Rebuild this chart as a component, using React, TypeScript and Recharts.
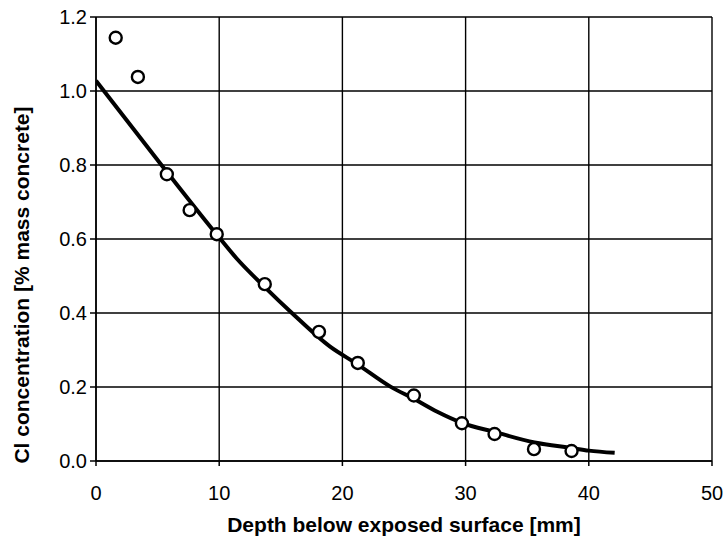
import React from "react";
import {
  ComposedChart,
  Line,
  Scatter,
  XAxis,
  YAxis,
  CartesianGrid,
  Label,
} from "recharts";

// Measured chloride profile
const depthsMm = [1.6, 3.4, 5.75, 7.6, 9.8, 13.7, 18.1, 21.25, 25.8, 29.7, 32.35, 35.55, 38.6];
const chloridePct = [1.144, 1.038, 0.775, 0.678, 0.613, 0.478, 0.349, 0.265, 0.177, 0.102, 0.073, 0.032, 0.027];

// Fitted curve
const curveDepthsMm = [0, 5.2, 9.8, 11.4, 13.7, 15.9, 19.0, 21.2, 23.9, 25.8, 27.7, 29.7, 32.4, 35.6, 38.6, 40.0, 42.1];
const curvePct = [1.028, 0.805, 0.612, 0.548, 0.47, 0.4, 0.309, 0.262, 0.201, 0.168, 0.133, 0.103, 0.078, 0.05, 0.035, 0.028, 0.022];

const xTicks = [0, 10, 20, 30, 40, 50];
const yTicks = [0, 0.2, 0.4, 0.6, 0.8, 1.0, 1.2];

const points = depthsMm.map((x, i) => ({ x, y: chloridePct[i] }));
const curve = curveDepthsMm.map((x, i) => ({ x, y: curvePct[i] }));

const FONT = "'Liberation Sans', Arial, Helvetica, sans-serif";

const Marker = (props: any) => {
  const { cx, cy } = props;
  if (cx == null || cy == null) return null;
  return <circle cx={cx} cy={cy} r={6} fill="#fff" stroke="#000" strokeWidth={2.4} />;
};

export default function App() {
  return (
    <div style={{ position: "absolute", left: 0, top: 0, width: 725, height: 540, background: "#fff" }}>
      <ComposedChart
        width={725}
        height={540}
        margin={{ top: 17, right: 13, left: 0, bottom: 0 }}
        style={{ fontFamily: FONT }}
      >
        <CartesianGrid stroke="#000" strokeWidth={1.4} />
        <XAxis
          type="number"
          dataKey="x"
          domain={[0, 50]}
          ticks={xTicks}
          interval={0}
          height={79}
          tickSize={5}
          tickMargin={20}
          axisLine={{ stroke: "#000", strokeWidth: 1.5 }}
          tickLine={{ stroke: "#000", strokeWidth: 1.5 }}
          tick={{ fill: "#000", fontSize: 20, fontFamily: FONT }}
          allowDataOverflow
        >
          <Label
            content={() => (
              <text
                x={404}
                y={532}
                textAnchor="middle"
                fontFamily={FONT}
                fontWeight="bold"
                fontSize={21}
                fill="#000"
              >
                Depth below exposed surface [mm]
              </text>
            )}
          />
        </XAxis>
        <YAxis
          type="number"
          dataKey="y"
          domain={[0, 1.2]}
          ticks={yTicks}
          interval={0}
          width={96}
          tickSize={6}
          tickMargin={3}
          tickFormatter={(v: number) => v.toFixed(1)}
          axisLine={{ stroke: "#000", strokeWidth: 1.5 }}
          tickLine={{ stroke: "#000", strokeWidth: 1.5 }}
          tick={{ fill: "#000", fontSize: 20, fontFamily: FONT }}
          allowDataOverflow
        >
          <Label
            content={() => (
              <text
                x={29}
                y={285}
                transform="rotate(-90, 29, 285)"
                textAnchor="middle"
                fontFamily={FONT}
                fontWeight="bold"
                fontSize={21}
                fill="#000"
              >
                Cl concentration [% mass concrete]
              </text>
            )}
          />
        </YAxis>
        <Line
          data={curve}
          dataKey="y"
          type="monotone"
          stroke="#000"
          strokeWidth={4}
          dot={false}
          activeDot={false}
          isAnimationActive={false}
        />
        <Scatter data={points} dataKey="y" shape={Marker} isAnimationActive={false} />
      </ComposedChart>
    </div>
  );
}
